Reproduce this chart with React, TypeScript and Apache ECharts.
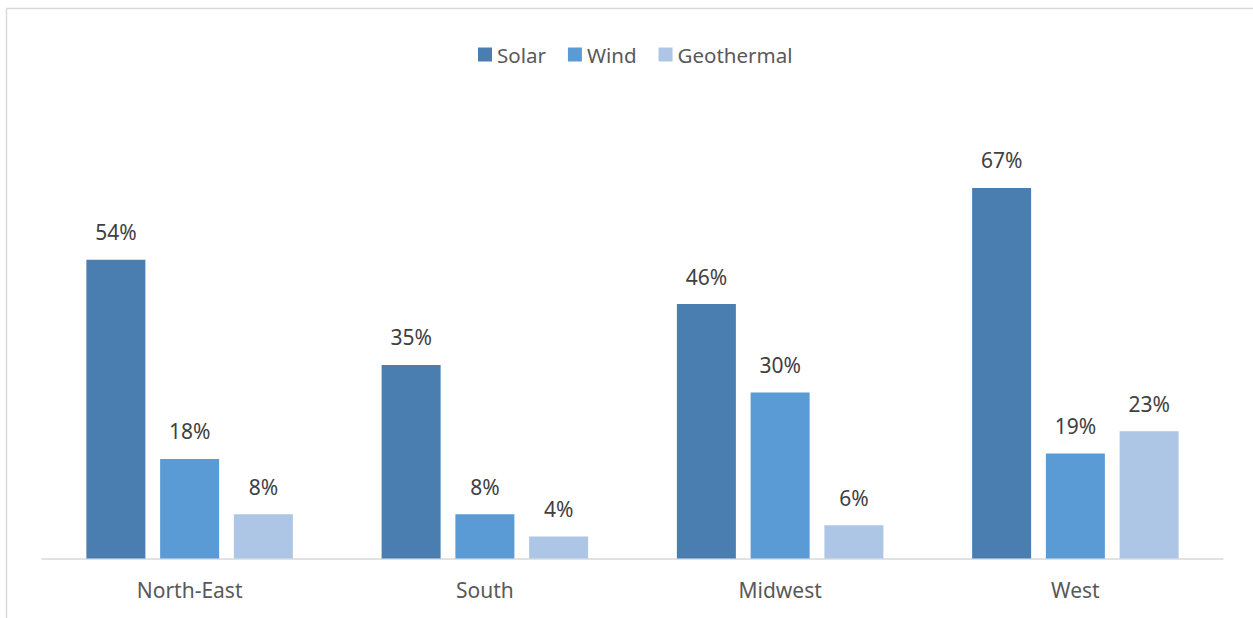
import React, { useEffect, useRef } from "react";
import * as echarts from "echarts";

const regions = ["North-East", "South", "Midwest", "West"];
const solar = [54, 35, 46, 67];
const wind = [18, 8, 30, 19];
const geothermal = [8, 4, 6, 23];
const seriesNames = ["Solar", "Wind", "Geothermal"];
const seriesColors = ["#4a7eb0", "#5b9bd5", "#adc6e5"];

const FONT = "'Noto Sans', 'Open Sans', sans-serif";

export default function App() {
  const ref = useRef<HTMLDivElement>(null);

  useEffect(() => {
    if (!ref.current) return;
    const chart = echarts.init(ref.current, undefined, { renderer: "svg" });
    const values = [solar, wind, geothermal];

    chart.setOption({
      animation: false,
      backgroundColor: "#ffffff",
      textStyle: { fontFamily: FONT },
      legend: {
        data: seriesNames,
        left: 473,
        top: 39,
        itemWidth: 14,
        itemHeight: 14,
        itemGap: 22,
        icon: "rect",
        textStyle: { color: "#595959", fontSize: 20.5, fontFamily: FONT },
      },
      grid: { left: 42, right: 30, top: 116, bottom: 59.5 },
      xAxis: {
        type: "category",
        data: regions,
        axisLine: { show: true, lineStyle: { color: "#d9d9d9", width: 1.5 } },
        axisTick: { show: false },
        axisLabel: { color: "#595959", fontSize: 21, margin: 21, fontFamily: FONT },
      },
      yAxis: {
        type: "value",
        min: 0,
        max: 80,
        show: false,
        splitLine: { show: false },
      },
      graphic: [
        {
          type: "line",
          shape: { x1: 6.5, y1: 8.5, x2: 1253, y2: 8.5 },
          style: { stroke: "#d9d9d9", lineWidth: 1.5 },
          silent: true,
        },
        {
          type: "line",
          shape: { x1: 6.5, y1: 8.5, x2: 6.5, y2: 618 },
          style: { stroke: "#d9d9d9", lineWidth: 1.5 },
          silent: true,
        },
      ],
      series: seriesNames.map((name, i) => ({
        name,
        type: "bar",
        data: values[i],
        barWidth: 59,
        barGap: "25%",
        itemStyle: { color: seriesColors[i] },
        label: {
          show: true,
          position: "top",
          distance: 17,
          formatter: "{c}%",
          color: "#404040",
          fontSize: 21,
          fontFamily: FONT,
        },
      })),
    });

    return () => chart.dispose();
  }, []);

  return (
    <div
      ref={ref}
      style={{ position: "fixed", left: 0, top: 0, width: 1253, height: 618 }}
    />
  );
}
